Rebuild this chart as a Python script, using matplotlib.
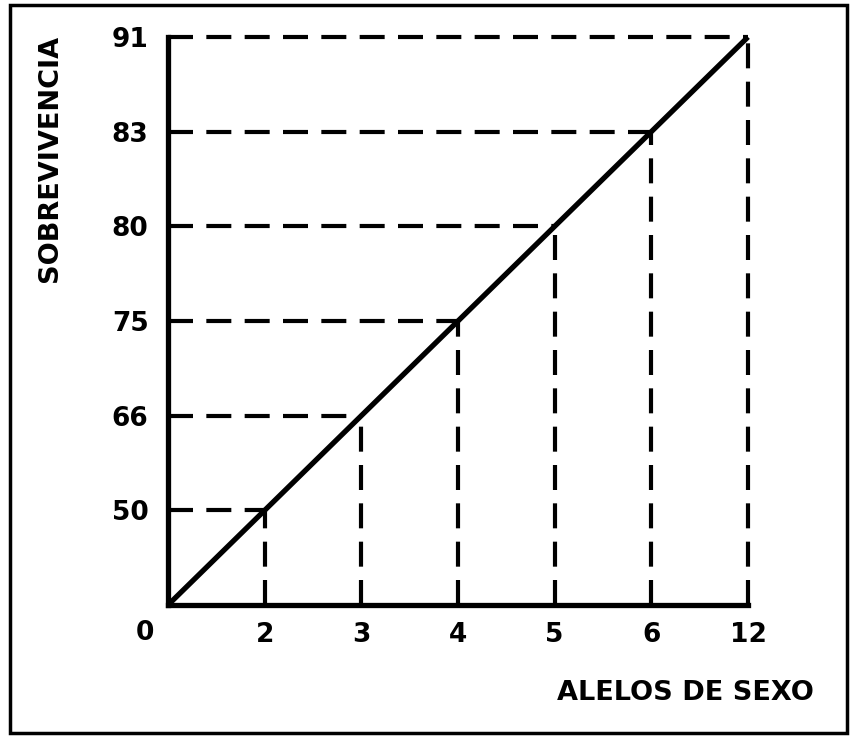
import numpy as np
import matplotlib.pyplot as plt
from matplotlib.patches import Rectangle

# datos
alelos = [0, 2, 3, 4, 5, 6, 12]
sobrevivencia = [0, 50, 66, 75, 80, 83, 91]

pos = np.arange(len(alelos))
font = dict(family="DejaVu Sans", weight="bold")

fig = plt.figure(figsize=(8.5, 7.36), dpi=100)
ax = fig.add_axes([168 / 850, 1 - 605 / 736, 580 / 850, 568 / 736])

# linea principal
ax.plot(pos, pos, color="black", lw=3.8, solid_capstyle="butt", clip_on=False, zorder=3)

# lineas de referencia punteadas
for p in pos[1:]:
    ax.plot([0, p], [p, p], color="black", lw=3, ls=(0, (6, 3.2)), clip_on=False)
    ax.plot([p, p], [0, p], color="black", lw=3, ls=(0, (6, 3.2)), clip_on=False)

ax.set_xlim(0, pos[-1])
ax.set_ylim(0, pos[-1])
for s in ["top", "right"]:
    ax.spines[s].set_visible(False)
for s in ["left", "bottom"]:
    ax.spines[s].set_linewidth(3.8)

ax.set_xticks(pos[1:])
ax.set_xticklabels([str(a) for a in alelos[1:]], fontsize=19, **font)
ax.set_yticks(pos[1:])
ax.set_yticklabels([str(v) for v in sobrevivencia[1:]], fontsize=19, **font)
ax.tick_params(length=0, pad=14)
ax.tick_params(axis="x", pad=12)

ax.annotate("0", xy=(0, 0), xytext=(-23, -28), textcoords="offset pixels",
            ha="center", va="center", fontsize=19, **font)

fig.text(50 / 850, 1 - 158 / 736, "SOBREVIVENCIA", rotation=90, ha="center", va="center",
         fontsize=19.5, **font)
fig.text(685 / 850, 1 - 693 / 736, "ALELOS DE SEXO", ha="center", va="center",
         fontsize=19.5, **font)

# marco exterior
fig.patches.append(Rectangle((10 / 850, 3 / 736), 837 / 850, 728 / 736,
                             transform=fig.transFigure, fill=False, lw=2.5,
                             edgecolor="black"))

plt.savefig("out.png", dpi=100)
